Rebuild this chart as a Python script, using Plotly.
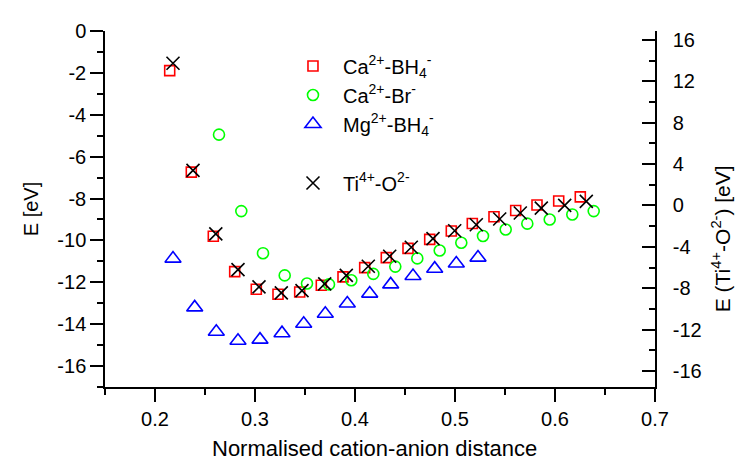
import plotly.graph_objects as go

# ---- data ----
ca_bh4_x = [0.2147, 0.2363, 0.2583, 0.2797, 0.3013, 0.3230, 0.3447, 0.3663, 0.3880, 0.4097,
            0.4313, 0.4530, 0.4747, 0.4963, 0.5173, 0.5390, 0.5607, 0.5820, 0.6037, 0.6253]
ca_bh4_y = [-1.89, -6.74, -9.80, -11.49, -12.33, -12.57, -12.46, -12.14, -11.74, -11.30,
            -10.82, -10.38, -9.95, -9.55, -9.19, -8.87, -8.57, -8.31, -8.12, -7.92]

ca_br_x = [0.2640, 0.2863, 0.3080, 0.3297, 0.3520, 0.3740, 0.3963, 0.4183, 0.4403, 0.4623,
           0.4847, 0.5063, 0.5280, 0.5507, 0.5723, 0.5947, 0.6173, 0.6387]
ca_br_y = [-4.95, -8.60, -10.61, -11.67, -12.06, -12.10, -11.90, -11.60, -11.25, -10.86,
           -10.48, -10.11, -9.79, -9.48, -9.20, -9.00, -8.76, -8.60]

mg_bh4_x = [0.2180, 0.2397, 0.2613, 0.2830, 0.3050, 0.3270, 0.3487, 0.3703, 0.3923, 0.4147,
            0.4357, 0.4580, 0.4797, 0.5013, 0.5230]
mg_bh4_y = [-10.87, -13.20, -14.36, -14.79, -14.74, -14.43, -13.98, -13.50, -13.01, -12.54,
            -12.10, -11.70, -11.35, -11.10, -10.82]

ti_o_x = [0.2180, 0.2380, 0.2608, 0.2830, 0.3040, 0.3263, 0.3470, 0.3697, 0.3913, 0.4133,
          0.4347, 0.4563, 0.4780, 0.4997, 0.5213, 0.5447, 0.5653, 0.5863, 0.6097, 0.6313]
ti_o_y = [13.75, 3.39, -2.75, -6.20, -7.87, -8.45, -8.23, -7.58, -6.76, -5.87,
          -4.91, -4.04, -3.21, -2.44, -1.86, -1.31, -0.73, -0.25, 0.01, 0.40]

names = ["Ca<sup>2+</sup>-BH<sub>4</sub><sup>-</sup>",
         "Ca<sup>2+</sup>-Br<sup>-</sup>",
         "Mg<sup>2+</sup>-BH<sub>4</sub><sup>-</sup>",
         "Ti<sup>4+</sup>-O<sup>2-</sup>"]

x_ticks = [0.2, 0.3, 0.4, 0.5, 0.6, 0.7]
y_left_ticks = [0, -2, -4, -6, -8, -10, -12, -14, -16]
y_right_ticks = [16, 12, 8, 4, 0, -4, -8, -12, -16]

FONT = "Arial, Liberation Sans, sans-serif"
FS = 20

fig = go.Figure()
fig.add_trace(go.Scatter(x=ca_bh4_x, y=ca_bh4_y, mode="markers", name=names[0], legendgroup="a",
                         marker=dict(symbol="square-open", size=10, color="#ff0000", line=dict(width=1.6))))
fig.add_trace(go.Scatter(x=ca_br_x, y=ca_br_y, mode="markers", name=names[1], legendgroup="a",
                         marker=dict(symbol="circle-open", size=11, color="#00ff00", line=dict(width=1.6))))
fig.add_trace(go.Scatter(x=mg_bh4_x, y=mg_bh4_y, mode="markers", name=names[2], legendgroup="a",
                         marker=dict(symbol="triangle-up-open", size=14, color="#0000ff", line=dict(width=1.6))))
fig.add_trace(go.Scatter(x=ti_o_x, y=ti_o_y, mode="markers", name=names[3], legendgroup="b",
                         yaxis="y2",
                         marker=dict(symbol="x-thin-open", size=13, color="#000000", line=dict(width=1.6))))

axis_common = dict(showgrid=False, zeroline=False, showline=True, linecolor="black", linewidth=1.5,
                   tickcolor="black", tickwidth=1.5, automargin=False,
                   tickfont=dict(family=FONT, size=FS, color="black"))

def lab(v):
    return ("%g" % v).replace("\u2212", "-")

fig.update_layout(
    template="none",
    width=745, height=463,
    margin=dict(l=97, r=98, t=23, b=84),
    paper_bgcolor="white", plot_bgcolor="white",
    font=dict(family=FONT, size=FS, color="black"),
    xaxis=dict(range=[0.15, 0.7], tickvals=x_ticks, ticktext=[lab(v) for v in x_ticks],
               ticks="outside", ticklen=13,
               minor=dict(dtick=0.05, tick0=0, ticks="outside", ticklen=6, tickcolor="black", tickwidth=1.5),
               **axis_common),
    xaxis2=dict(range=[0.15, 0.7], overlaying="x", side="top", tickvals=x_ticks, ticks="inside", ticklen=12,
                minor=dict(dtick=0.05, tick0=0, ticks="inside", ticklen=6, tickcolor="black", tickwidth=1.5),
                showticklabels=False, **axis_common),
    yaxis=dict(range=[-17, 0], tickvals=y_left_ticks, ticktext=[lab(v) for v in y_left_ticks],
               ticks="outside", ticklen=13,
               minor=dict(dtick=1, tick0=0, ticks="outside", ticklen=6, tickcolor="black", tickwidth=1.5),
               title=dict(text="E [eV]", font=dict(family=FONT, size=FS), standoff=13),
               **axis_common),
    yaxis2=dict(range=[-17.55, 16.87], overlaying="y", side="right",
                tickvals=y_right_ticks, ticktext=[lab(v) for v in y_right_ticks],
                ticks="inside", ticklen=13, ticklabelstandoff=12,
                minor=dict(dtick=2, tick0=0, ticks="inside", ticklen=6, tickcolor="black", tickwidth=1.5),
                **axis_common),
    annotations=[
        dict(text="E (Ti<sup>4+</sup>-O<sup>2-</sup>) [eV]", textangle=-90,
             xref="paper", yref="paper", x=1.12, y=0.415, xanchor="center", yanchor="middle",
             showarrow=False, font=dict(family=FONT, size=21, color="black")),
        dict(text="Normalised cation-anion distance",
             xref="paper", yref="paper", x=0.49, y=-0.131, xanchor="center", yanchor="top",
             showarrow=False, font=dict(family=FONT, size=22, color="black")),
    ],
    showlegend=True,
    legend=dict(x=0.3236, y=0.9564, xanchor="left", yanchor="top", bgcolor="rgba(0,0,0,0)",
                traceorder="grouped", tracegroupgap=30, font=dict(family=FONT, size=FS),
                itemsizing="trace", itemwidth=50, borderwidth=0),
)

fig.write_html("out.html")
